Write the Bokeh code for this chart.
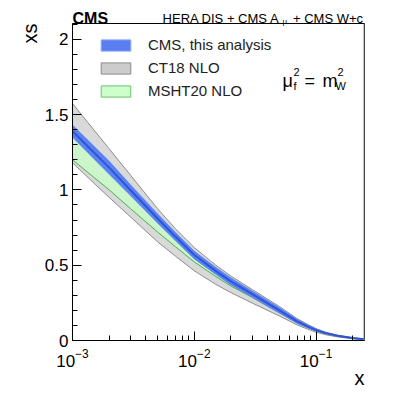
import math
from bokeh.plotting import figure
from bokeh.models import (Range1d, Label, Legend, LegendItem, ColumnDataSource,
                          SingleIntervalTicker, LogTicker, Span)
from bokeh.embed import file_html
from bokeh.resources import INLINE

# ---------------- data ----------------
x_vals = [0.001, 0.0015, 0.002, 0.003, 0.005, 0.007, 0.01, 0.015, 0.02,
          0.03, 0.05, 0.07, 0.085, 0.1, 0.12, 0.15, 0.2, 0.25]

cms_central = [1.39, 1.248, 1.148, 0.998, 0.81, 0.69, 0.568, 0.462, 0.393,
               0.308, 0.20, 0.127, 0.094, 0.069, 0.049, 0.032, 0.016, 0.008]
cms_upper = [1.432, 1.293, 1.193, 1.036, 0.843, 0.72, 0.596, 0.488, 0.419,
             0.331, 0.221, 0.143, 0.107, 0.079, 0.056, 0.037, 0.020, 0.011]
cms_lower = [1.348, 1.203, 1.103, 0.960, 0.777, 0.66, 0.540, 0.436, 0.367,
             0.285, 0.179, 0.111, 0.081, 0.059, 0.042, 0.027, 0.012, 0.005]

ct18_upper = [1.574, 1.398, 1.273, 1.097, 0.875, 0.742, 0.617, 0.50, 0.428,
              0.338, 0.226, 0.145, 0.108, 0.079, 0.055, 0.036, 0.018, 0.009]
ct18_lower = [1.18, 1.045, 0.95, 0.82, 0.655, 0.56, 0.463, 0.373, 0.318,
              0.248, 0.163, 0.103, 0.076, 0.055, 0.038, 0.024, 0.011, 0.005]

msht_upper = [1.37, 1.232, 1.134, 0.986, 0.80, 0.682, 0.562, 0.456, 0.389,
              0.305, 0.198, 0.127, 0.095, 0.070, 0.050, 0.033, 0.017, 0.009]
msht_lower = [1.20, 1.083, 1.0, 0.875, 0.72, 0.623, 0.522, 0.425, 0.362,
              0.285, 0.184, 0.118, 0.088, 0.065, 0.046, 0.030, 0.015, 0.008]

y_ticks = [0, 0.5, 1, 1.5, 2]
y_tick_labels = ["0", "0.5", "1", "1.5", "2"]
legend_labels = ["CMS, this analysis", "CT18 NLO", "MSHT20 NLO"]

# ---------------- figure ----------------
X0, X1 = 0.001, 0.25
Y0, Y1 = 0.0, 2.105
W, H = 391, 396
# frame in canvas pixels
FL, FR, FT, FB = 72, 364, 23, 340

p = figure(width=W, height=H, x_axis_type="log",
           x_range=Range1d(X0, X1), y_range=Range1d(Y0, Y1),
           output_backend="svg", toolbar_location=None,
           min_border_left=FL, min_border_right=W - FR,
           min_border_top=FT, min_border_bottom=H - FB)
p.grid.visible = False
p.outline_line_color = "black"
p.outline_line_width = 1
p.background_fill_color = "white"
p.border_fill_color = "white"


def dx(px):
    lx0, lx1 = math.log10(X0), math.log10(X1)
    return 10 ** (lx0 + (px - FL) / (FR - FL) * (lx1 - lx0))


def dy(py):
    return Y0 + (FB - py) / (FB - FT) * (Y1 - Y0)


src = ColumnDataSource(dict(x=x_vals, c=cms_central, cu=cms_upper, cl=cms_lower,
                            tu=ct18_upper, tl=ct18_lower, mu=msht_upper, ml=msht_lower))

# CT18 band
p.varea(x="x", y1="tl", y2="tu", source=src, fill_color="#d9d9d9")
p.line(x="x", y="tu", source=src, line_color="#8c8c8c", line_width=1)
p.line(x="x", y="tl", source=src, line_color="#8c8c8c", line_width=1)
# MSHT20 band
p.varea(x="x", y1="ml", y2="mu", source=src, fill_color="#ccf5cc")
p.line(x="x", y="ml", source=src, line_color="#4cae4c", line_width=1)
p.line(x="x", y="mu", source=src, line_color="#4cae4c", line_width=1)
# CMS band
p.varea(x="x", y1="cl", y2="cu", source=src, fill_color="#5a82f2")
p.line(x="x", y="c", source=src, line_color="#2f55d6", line_width=2)

# right frame edge is grey in the reference
p.add_layout(Span(location=X1, dimension="height", line_color="#8a8a8a",
                  line_width=2))

# legend proxies (one undrawn NaN row so that the legend swatch is painted)
nan = float("nan")
proxy = ColumnDataSource(dict(x=[nan], y=[nan]))
r1 = p.rect(x="x", y="y", width=1, height=1, source=proxy,
            fill_color="#5a7ef0", line_color="#86a6fa", line_width=1)
r2 = p.rect(x="x", y="y", width=1, height=1, source=proxy,
            fill_color="#cccccc", line_color="#8c8c8c", line_width=1)
r3 = p.rect(x="x", y="y", width=1, height=1, source=proxy,
            fill_color="#ccffcc", line_color="#6cc06c", line_width=1)
legend = Legend(items=[LegendItem(label=legend_labels[0], renderers=[r1]),
                       LegendItem(label=legend_labels[1], renderers=[r2]),
                       LegendItem(label=legend_labels[2], renderers=[r3])],
                location=(25, 241), glyph_width=37, glyph_height=14,
                label_height=14, spacing=6, padding=0, margin=0,
                label_standoff=14, label_text_font="Liberation Sans",
                label_text_font_size="15px", label_text_color="#222222",
                border_line_alpha=0, background_fill_alpha=0)
p.add_layout(legend, "center")

# axes
xa = p.xaxis[0]
xa.ticker = LogTicker(num_minor_ticks=10)
ya = p.yaxis[0]
ya.ticker = SingleIntervalTicker(interval=0.5, num_minor_ticks=5)
ya.major_label_overrides = {t: s for t, s in zip(y_ticks, y_tick_labels)}
for ax in (xa, ya):
    ax.axis_line_color = "black"
    ax.major_tick_line_color = "black"
    ax.minor_tick_line_color = "black"
    ax.major_tick_in = 9
    ax.major_tick_out = 0
    ax.minor_tick_in = 5
    ax.minor_tick_out = 0
    ax.major_label_text_font = "Liberation Sans"
    ax.major_label_text_font_size = "17px"
    ax.major_label_text_color = "black"
ya.major_label_standoff = 4
xa.major_label_standoff = 8


def lab(px, py, text, size, align="left", style="normal", angle=0.0,
        panel="center"):
    lbl = Label(x=dx(px), y=dy(py), text=text, text_font="Liberation Sans",
                text_font_size=f"{size}px", text_align=align,
                text_baseline="alphabetic", text_font_style=style,
                angle=angle, text_color="black")
    p.add_layout(lbl, panel)


NB = "\u00a0"
# texts outside the frame go into side panels (not clipped there);
# panels are chosen so that each side keeps its reserved size
lab(364, 18, "HERA DIS + CMS A" + NB * 4 + "+ CMS W+c", 13, align="right",
    panel="above")
lab(72, 18, "CMS", 16, style="bold", panel="below")
lab(282, 21, "\u03bc", 8, panel="left")
lab(29, 23, "xs", 20, align="right", angle=math.pi / 2, panel="left")
lab(364, 377, "x", 20, align="right", panel="right")
# scale annotation (inside the frame)
lab(282, 80, "\u03bc", 18)
lab(293, 71, "2", 11)
lab(293, 85, "f", 11)
lab(304, 80, "=", 18)
lab(322, 80, "m", 18)
lab(337, 71, "2", 11)
lab(335, 85, "W", 11)

open("out.html", "w").write(file_html(p, INLINE))
